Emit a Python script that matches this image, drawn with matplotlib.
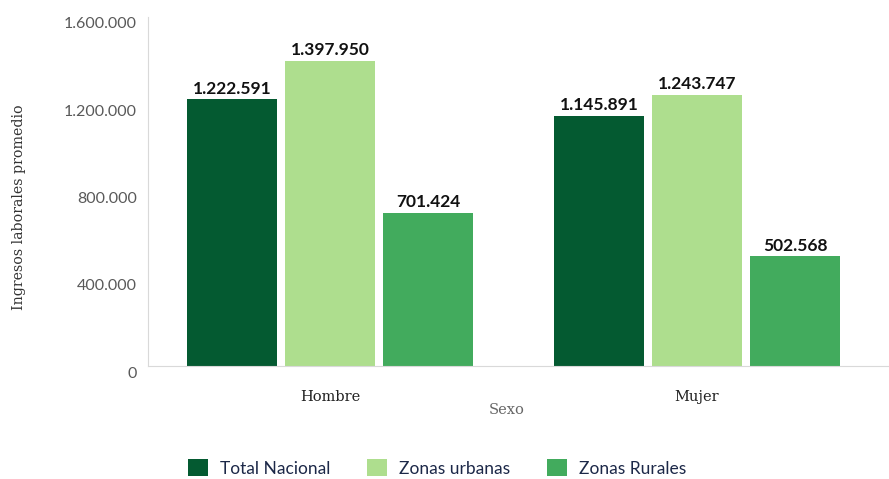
import matplotlib.pyplot as plt
import numpy as np
from matplotlib.patches import Patch
from matplotlib.transforms import ScaledTranslation

categories = ["Hombre", "Mujer"]
series_names = ["Total Nacional", "Zonas urbanas", "Zonas Rurales"]
total_nacional = [1222591, 1145891]
zonas_urbanas = [1397950, 1243747]
zonas_rurales = [701424, 502568]
yticks = [0, 400000, 800000, 1200000, 1600000]
ytick_labels = ["0", "400.000", "800.000", "1.200.000", "1.600.000"]

colors = ["#045a31", "#aede8e", "#42ab5d"]
series = [total_nacional, zonas_urbanas, zonas_rurales]

def fmt(v):
    return f"{v:,}".replace(",", ".")

fig = plt.figure(figsize=(8.89, 4.79), dpi=100)
ax = fig.add_axes([148/889, 1-366/479, 1-148/889, (366-17)/479])

x = np.arange(len(categories))
step = 0.267
width = 0.243
for i, (vals, c) in enumerate(zip(series, colors)):
    pos = x + (i - 1) * step
    ax.bar(pos, vals, width=width, color=c, zorder=2)
    for p, v in zip(pos, vals):
        ax.text(p, v + 12000, fmt(v), ha="center", va="bottom",
                fontsize=12.5, fontweight="bold", color="#111111", family="Lato")

ax.set_xlim(-0.496, 1.523)
ax.set_ylim(0, 1600000)
ax.set_yticks(yticks)
ax.set_yticklabels([])
ylab_trans = ax.get_yaxis_transform() + ScaledTranslation(-11/100, -7.5/100, fig.dpi_scale_trans)
for v, s in zip(yticks, ytick_labels):
    ax.text(0, v, s, transform=ylab_trans, ha="right", va="center",
            family="Lato", fontsize=11.5, color="#595959")
ax.set_xticks(x)
ax.set_xticklabels(categories, family="DejaVu Serif", fontsize=10.5, color="#222222")
ax.tick_params(axis="both", length=0)
ax.tick_params(axis="x", pad=17)

for s in ["top", "right"]:
    ax.spines[s].set_visible(False)
ax.spines["left"].set_color("#d9d9d9")
ax.spines["bottom"].set_color("#d9d9d9")

ax.set_ylabel("Ingresos laborales promedio", family="DejaVu Serif", fontsize=10.2,
              color="#333333")
ax.yaxis.set_label_coords(-122/741, (366-207)/349)
ax.set_xlabel("Sexo", family="DejaVu Serif", fontsize=10.5, color="#666666")
ax.xaxis.set_label_coords((507-148)/741, -(410-366)/349)
ax.xaxis.label.set_va("center")

handles = [Patch(facecolor=c, label=n) for c, n in zip(colors, series_names)]
leg = fig.legend(handles=handles, loc="center", bbox_to_anchor=(437/889, 1-468/479),
                 ncol=3, frameon=False, handlelength=1.15, handleheight=1.15,
                 columnspacing=2.1, handletextpad=0.7,
                 prop={"family": "Lato", "size": 12.5})
for t in leg.get_texts():
    t.set_color("#1c2848")

fig.savefig("out.png", dpi=100)
